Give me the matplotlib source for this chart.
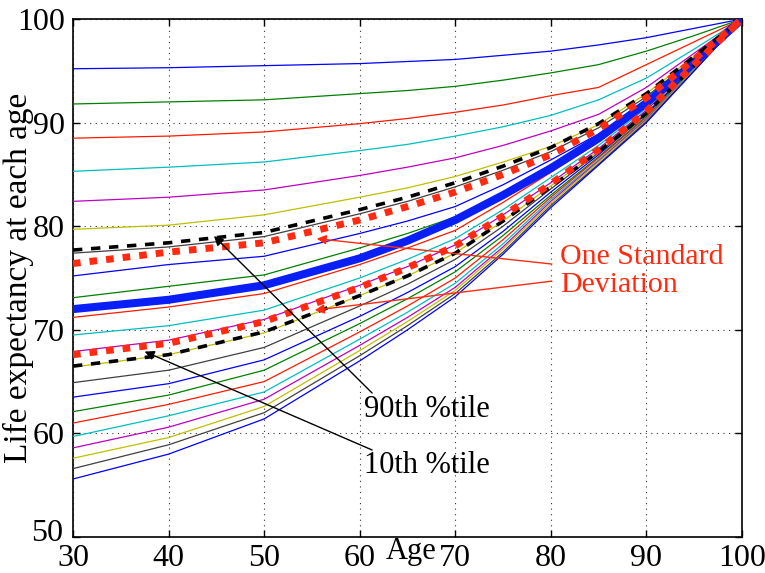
import matplotlib
matplotlib.use("Agg")
import matplotlib.pyplot as plt
import matplotlib.transforms as mtransforms
import numpy as np

plt.rcParams['font.family'] = ['Liberation Serif', 'DejaVu Serif']

# ---------------- data ----------------
ages = [30, 40, 50, 60, 65, 70, 75, 80, 85, 90, 95, 100]

# life expectancy of the 22 thin curves (top to bottom) at each age
le_30 = [95.2, 91.8, 88.5, 85.3, 82.4, 79.7, 77.4, 75.2, 73.1, 71.2, 69.5, 67.9, 66.4, 64.9, 63.5, 62.1, 61.0, 59.7, 58.6, 57.6, 56.6, 55.6]
le_40 = [95.3, 92.0, 88.7, 85.7, 82.8, 80.1, 78.0, 76.3, 74.2, 72.2, 70.4, 69.0, 67.6, 66.1, 64.8, 63.7, 62.8, 61.7, 60.6, 59.6, 58.9, 58.0]
le_50 = [95.5, 92.2, 89.1, 86.2, 83.5, 81.1, 79.0, 77.1, 75.3, 73.5, 71.9, 71.0, 69.7, 68.3, 67.1, 66.1, 65.0, 64.0, 63.3, 62.6, 62.0, 61.4]
le_60 = [95.7, 92.8, 89.9, 87.3, 84.9, 82.8, 81.2, 79.3, 77.9, 76.3, 75.0, 74.3, 73.3, 72.3, 71.3, 70.6, 69.8, 69.1, 68.5, 68.0, 67.5, 67.0]
le_65 = [95.9, 93.1, 90.4, 87.9, 85.7, 83.7, 82.4, 80.5, 79.3, 77.9, 76.8, 76.1, 75.2, 74.4, 73.6, 73.0, 72.3, 71.7, 71.2, 70.8, 70.4, 70.0]
le_70 = [96.1, 93.5, 91.0, 88.7, 86.6, 84.8, 83.8, 81.9, 80.9, 79.6, 78.8, 78.2, 77.4, 76.8, 76.1, 75.6, 75.0, 74.5, 74.1, 73.8, 73.5, 73.2]
le_75 = [96.5, 94.1, 91.7, 89.6, 87.8, 86.2, 85.4, 84.0, 83.3, 82.3, 81.6, 81.1, 80.5, 80.0, 79.5, 79.1, 78.7, 78.3, 78.0, 77.8, 77.5, 77.3]
le_80 = [96.9, 94.8, 92.6, 90.7, 89.2, 87.7, 87.2, 86.4, 85.9, 85.2, 84.7, 84.2, 83.9, 83.6, 83.3, 83.0, 82.8, 82.6, 82.4, 82.2, 82.0, 81.8]
le_85 = [97.5, 95.6, 93.4, 92.2, 90.8, 89.8, 89.5, 88.9, 88.6, 88.1, 87.8, 87.5, 87.3, 87.1, 86.9, 86.7, 86.6, 86.4, 86.3, 86.2, 86.0, 85.9]
le_90 = [98.2, 96.9, 95.6, 94.3, 93.4, 92.8, 92.5, 92.2, 92.0, 91.6, 91.4, 91.2, 91.0, 90.9, 90.8, 90.6, 90.5, 90.4, 90.3, 90.2, 90.1, 90.0]
le_95 = [99.1, 98.4, 97.8, 97.1, 96.7, 96.4, 96.2, 96.1, 96.0, 95.8, 95.7, 95.6, 95.5, 95.4, 95.4, 95.3, 95.2, 95.2, 95.1, 95.1, 95.0, 95.0]
le_100 = [100.0] * 22

mean_le = [72.0, 72.9, 74.3, 76.9, 78.6, 80.6, 83.0, 85.6, 88.5, 91.9, 95.8, 100.0]
sd_upper = [76.4, 77.5, 78.4, 80.6, 81.9, 83.3, 85.0, 86.9, 89.4, 92.4, 96.1, 100.0]
sd_lower = [67.6, 68.7, 70.8, 74.1, 76.0, 78.1, 81.0, 84.1, 87.4, 91.1, 95.6, 100.0]
p90 = [77.7, 78.4, 79.4, 81.6, 82.8, 84.2, 85.8, 87.6, 89.9, 92.8, 96.4, 100.0]
p10 = [66.5, 67.6, 69.8, 73.3, 75.2, 77.4, 80.5, 83.8, 87.2, 90.9, 95.5, 100.0]

x_ticks = [30, 40, 50, 60, 70, 80, 90, 100]
y_ticks = [50, 60, 70, 80, 90, 100]

# MATLAB (classic) colour order
color_order = [(0, 0, 1), (0, 0.5, 0), (1, 0.1, 0), (0, 0.75, 0.75),
               (0.75, 0, 0.75), (0.75, 0.75, 0), (0.25, 0.25, 0.25)]
RED = '#ff2a10'

# ---------------- figure ----------------
fig = plt.figure(figsize=(7.65, 5.73), dpi=100)
ax = fig.add_axes([0.0954, 0.0628, 0.8745, 0.904])

thin = np.array([le_30, le_40, le_50, le_60, le_65, le_70, le_75, le_80, le_85, le_90, le_95, le_100])
for i in range(thin.shape[1]):
    ax.plot(ages, thin[:, i], color=color_order[i % 7], lw=0.9, zorder=3)

ax.plot(ages, mean_le, color='#0a1ff5', lw=5.8, zorder=4, solid_capstyle='butt')
ax.plot(ages, p90, color='k', lw=2.6, ls=(0, (2.6, 2.4)), zorder=5, dash_capstyle='butt')
ax.plot(ages, p10, color='k', lw=2.6, ls=(0, (2.6, 2.4)), zorder=5, dash_capstyle='butt')
ax.plot(ages, sd_upper, color=RED, lw=5.0, ls=(0, (1.1, 1.3)), zorder=6, dash_capstyle='butt')
ax.plot(ages, sd_lower, color=RED, lw=5.0, ls=(0, (1.1, 1.3)), zorder=6, dash_capstyle='butt')

ax.set_xlim(30, 100)
ax.set_ylim(50, 100)
ax.set_xticks(x_ticks)
ax.set_yticks(y_ticks)
ax.tick_params(axis='both', direction='in', length=5, width=1, top=True, right=True,
               labelsize=23)
ax.tick_params(axis='x', pad=5)
ax.tick_params(axis='y', pad=6)
ax.grid(True, color='#333333', lw=0.8, ls=(0, (1, 4)))
ax.set_axisbelow(True)
for s in ax.spines.values():
    s.set_linewidth(1.2)

# lift the lowest y tick label a little, as in the reference
lab50 = ax.get_yticklabels()[0]
lab50.set_transform(mtransforms.offset_copy(lab50.get_transform(), fig=fig, x=-2, y=7, units='dots'))

ax.set_xlabel('Age', fontsize=22)
ax.xaxis.set_label_coords(0.505, -0.0)
ax.set_ylabel('Life expectancy at each age', fontsize=24)
ax.yaxis.set_label_coords(-0.058, 0.5)

# annotations
ax.text(81.0, 75.7, 'One Standard\nDeviation', color=RED, fontsize=21.5,
        ha='left', va='center', linespacing=1.1, zorder=8)
aprops_r = dict(arrowstyle='-|>', color=RED, lw=1.0, mutation_scale=14, shrinkA=0, shrinkB=0)
ax.annotate('', xy=(55.5, 78.8), xytext=(80.1, 76.35), arrowprops=aprops_r, zorder=8)
ax.annotate('', xy=(55.3, 71.9), xytext=(80.1, 74.7), arrowprops=aprops_r, zorder=8)

aprops_k = dict(arrowstyle='-|>', color='k', lw=1.0, mutation_scale=14, shrinkA=0, shrinkB=0)
ax.text(60.5, 62.3, '90th %tile', color='k', fontsize=22, ha='left', va='center', zorder=8)
ax.annotate('', xy=(44.75, 79.05), xytext=(61.3, 63.9), arrowprops=aprops_k, zorder=8)
ax.text(60.5, 56.9, '10th %tile', color='k', fontsize=22, ha='left', va='center', zorder=8)
ax.annotate('', xy=(37.5, 67.9), xytext=(61.3, 58.4), arrowprops=aprops_k, zorder=8)

fig.savefig('out.png', dpi=100)
